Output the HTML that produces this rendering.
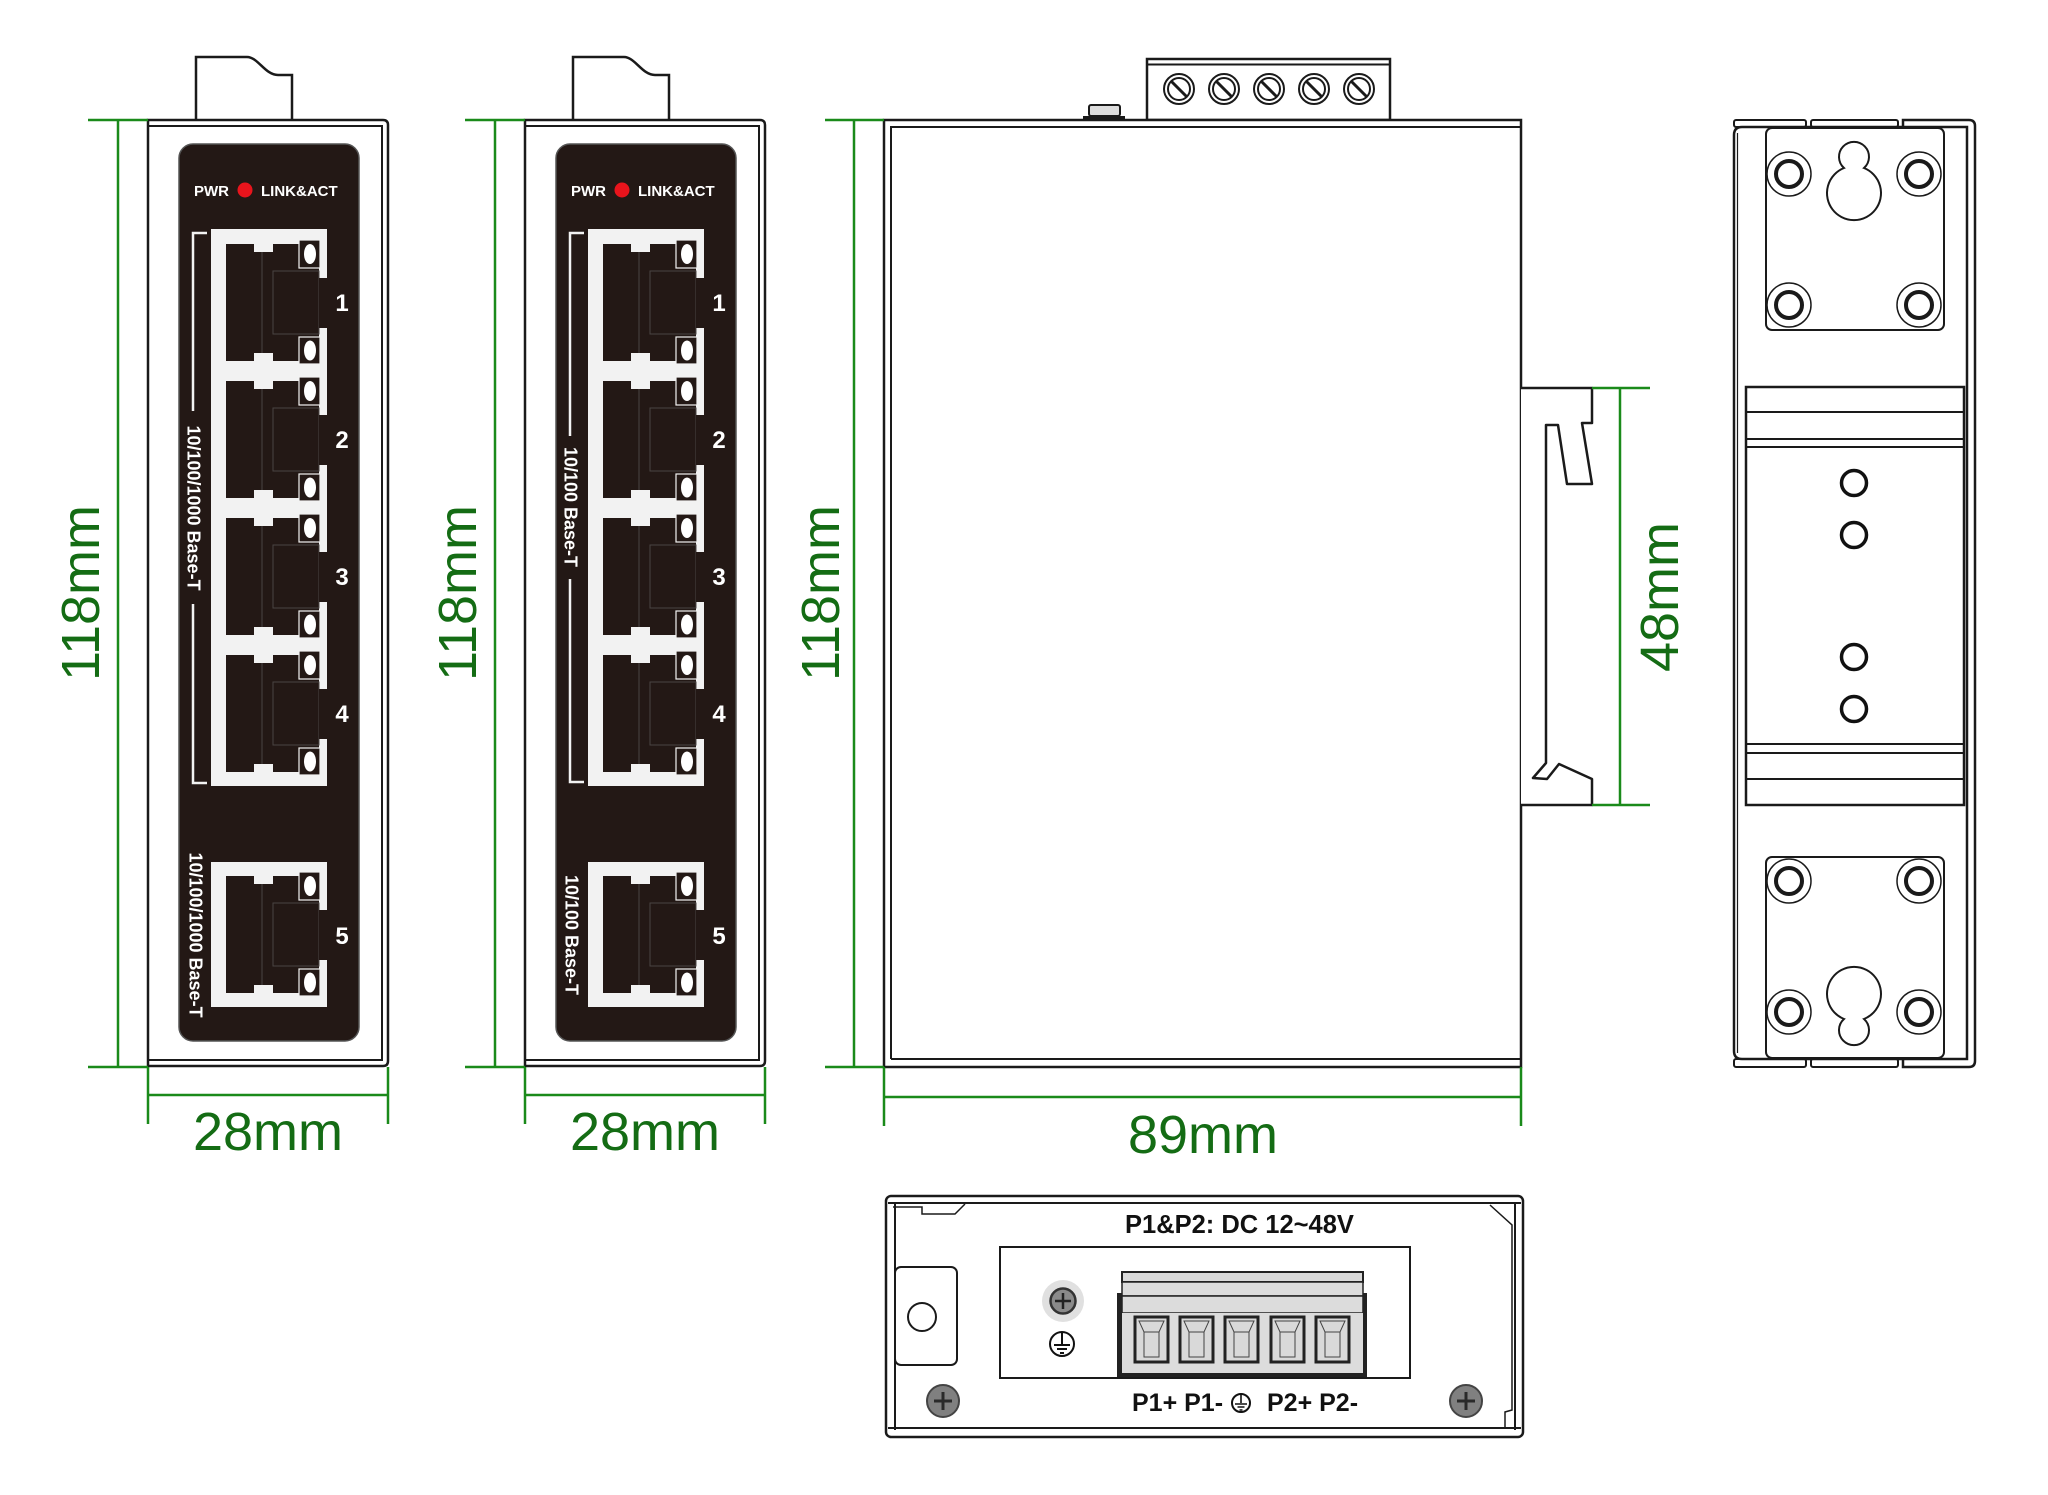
<!DOCTYPE html>
<html><head><meta charset="utf-8">
<style>
html,body{margin:0;padding:0;background:#fff;}
svg{display:block;}
.dim{stroke:#1a8a1a;stroke-width:2.5;fill:none;}
.dt{font-family:"Liberation Sans",Arial,sans-serif;font-size:54px;fill:#146c14;}
.k{stroke:#1a1a1a;stroke-width:2.5;fill:none;}
.wl{font-family:"Liberation Sans",Arial,sans-serif;font-weight:bold;fill:#fff;}
.bl{font-family:"Liberation Sans",Arial,sans-serif;font-weight:bold;fill:#111;}
</style></head><body>
<svg width="2048" height="1495" viewBox="0 0 2048 1495" xmlns="http://www.w3.org/2000/svg">
<defs>
<g id="port">
 <rect x="0" y="0" width="93" height="117" fill="#231815"/>
 <rect x="28" y="0" width="19" height="8" fill="#f2f2f2"/>
 <rect x="28" y="109" width="19" height="8" fill="#f2f2f2"/>
 <line x1="36" y1="8" x2="36" y2="109" stroke="#4a4442" stroke-width="1"/>
 <rect x="47" y="27" width="46" height="63" fill="none" stroke="#4a4442" stroke-width="1"/>
 <rect x="93" y="34" width="8" height="50" fill="#231815"/>
 <rect x="73" y="-4" width="21" height="28" fill="#231815" stroke="#f2f2f2" stroke-width="1.2"/>
 <ellipse cx="84" cy="10" rx="6" ry="10" fill="#fff"/>
 <rect x="73" y="93" width="21" height="27" fill="#231815" stroke="#f2f2f2" stroke-width="1.2"/>
 <ellipse cx="84" cy="106.5" rx="6" ry="10" fill="#fff"/>
</g>
<g id="scr">
 <circle r="22" fill="#fff" stroke="#1a1a1a" stroke-width="1.5"/>
 <circle r="13" fill="#fff" stroke="#1a1a1a" stroke-width="4"/>
</g>
<g id="tscr">
 <circle r="15" fill="#fff" stroke="#1a1a1a" stroke-width="2"/>
 <circle r="11" fill="#fff" stroke="#1a1a1a" stroke-width="2"/>
 <line x1="-7.5" y1="-7.5" x2="7.5" y2="7.5" stroke="#1a1a1a" stroke-width="3"/>
</g>
<g id="term">
 <rect x="0" y="0" width="33" height="45" fill="#d9d9d9" stroke="#222" stroke-width="3"/>
 <path d="M4,4 H29 L24,15 H9 Z M9,15 V40 H24 V15" fill="none" stroke="#444" stroke-width="1"/>
</g>
<g id="front">
 <path d="M196,120 V57 H247 C258,57 265,75 278,75 H292 V120" fill="#fff" stroke="#1a1a1a" stroke-width="2.5"/>
 <path d="M148,120 H383 Q388,120 388,125 V1061 Q388,1066 383,1066 H148 Z" fill="#fff" stroke="#1a1a1a" stroke-width="2.5"/>
 <path d="M148,126 H382 V1060 H148" fill="none" stroke="#1a1a1a" stroke-width="2"/>
 <rect x="179" y="144" width="180" height="897" rx="14" fill="#231815" stroke="#555" stroke-width="1.5"/>
 <text class="wl" x="194" y="196" font-size="15">PWR</text>
 <circle cx="245" cy="190" r="7.5" fill="#e8141c"/>
 <text class="wl" x="261" y="196" font-size="15">LINK&amp;ACT</text>
 <rect x="211" y="229" width="116" height="557" fill="#f2f2f2"/>
 <use href="#port" x="226" y="244"/>
 <use href="#port" x="226" y="381"/>
 <use href="#port" x="226" y="518"/>
 <use href="#port" x="226" y="655"/>
 <rect x="211" y="862" width="116" height="145" fill="#f2f2f2"/>
 <use href="#port" x="226" y="876"/>
 <text class="wl" x="342" y="311" font-size="24" text-anchor="middle">1</text>
 <text class="wl" x="342" y="448" font-size="24" text-anchor="middle">2</text>
 <text class="wl" x="342" y="585" font-size="24" text-anchor="middle">3</text>
 <text class="wl" x="342" y="722" font-size="24" text-anchor="middle">4</text>
 <text class="wl" x="342" y="944" font-size="24" text-anchor="middle">5</text>
</g>
</defs>

<!-- Front view 1 -->
<use href="#front"/>
<path d="M207,233 H193 V411 M193,604 V783 H207" fill="none" stroke="#f2f2f2" stroke-width="2.5"/>
<text class="wl" font-size="18" text-anchor="middle" transform="translate(194,508) rotate(90)" y="6.5">10/100/1000 Base-T</text>
<text class="wl" font-size="18" text-anchor="middle" transform="translate(196,935) rotate(90)" y="6.5">10/100/1000 Base-T</text>

<!-- Front view 2 -->
<use href="#front" x="377"/>
<path d="M584,233 H570 V436 M570,579 V782 H584" fill="none" stroke="#f2f2f2" stroke-width="2.5"/>
<text class="wl" font-size="18" text-anchor="middle" transform="translate(571,507) rotate(90)" y="6.5">10/100 Base-T</text>
<text class="wl" font-size="18" text-anchor="middle" transform="translate(572,935) rotate(90)" y="6.5">10/100 Base-T</text>

<!-- Side view -->
<rect x="1147" y="59" width="243" height="61" fill="#fff" stroke="#1a1a1a" stroke-width="2.5"/>
<line x1="1147" y1="64.5" x2="1390" y2="64.5" stroke="#1a1a1a" stroke-width="2"/>
<use href="#tscr" x="1179" y="89"/>
<use href="#tscr" x="1224" y="89"/>
<use href="#tscr" x="1269" y="89"/>
<use href="#tscr" x="1314" y="89"/>
<use href="#tscr" x="1359" y="89"/>
<rect x="1089" y="105" width="31" height="11" rx="2" fill="#ddd" stroke="#1a1a1a" stroke-width="2"/>
<line x1="1083" y1="117.5" x2="1125" y2="117.5" stroke="#1a1a1a" stroke-width="3"/>
<rect x="884" y="120" width="637" height="947" fill="#fff" stroke="#1a1a1a" stroke-width="2.5"/>
<path d="M891,1059 V127 H1521 M891,1059 H1521" fill="none" stroke="#1a1a1a" stroke-width="2"/>
<path d="M1521,388 H1592 V423 H1582 L1592,484 H1567 L1558,425 H1546 V763 L1533,778 L1547,779 L1559,764 L1592,779 V805 H1521" fill="#fff" stroke="#1a1a1a" stroke-width="2.5" stroke-linejoin="round"/>

<!-- Right view -->
<rect x="1734" y="120" width="72" height="7" rx="2" fill="#fff" stroke="#1a1a1a" stroke-width="2"/>
<rect x="1811" y="120" width="87" height="7" rx="2" fill="#fff" stroke="#1a1a1a" stroke-width="2"/>
<rect x="1734" y="1059" width="72" height="8" rx="2" fill="#fff" stroke="#1a1a1a" stroke-width="2"/>
<rect x="1811" y="1059" width="87" height="8" rx="2" fill="#fff" stroke="#1a1a1a" stroke-width="2"/>
<path d="M1903,127 V120 H1969 Q1975,120 1975,126 V1061 Q1975,1067 1969,1067 H1903 V1059" fill="#fff" stroke="#1a1a1a" stroke-width="2.5"/>
<path d="M1967,127 H1742 Q1734,127 1734,135 V1051 Q1734,1059 1742,1059 H1967 Z" fill="#fff" stroke="#1a1a1a" stroke-width="2.5"/>
<line x1="1737.5" y1="133" x2="1737.5" y2="1053" stroke="#1a1a1a" stroke-width="1.2"/>
<rect x="1766" y="128" width="178" height="202" rx="6" fill="#fff" stroke="#1a1a1a" stroke-width="2"/>
<use href="#scr" x="1789" y="174"/>
<use href="#scr" x="1919" y="174"/>
<use href="#scr" x="1789" y="305"/>
<use href="#scr" x="1919" y="305"/>
<path d="M1844,168 A15,15 0 1 1 1864,168 A27,27 0 1 1 1844,168 Z" fill="#fff" stroke="#1a1a1a" stroke-width="2"/>
<rect x="1766" y="857" width="178" height="201" rx="6" fill="#fff" stroke="#1a1a1a" stroke-width="2"/>
<use href="#scr" x="1789" y="881"/>
<use href="#scr" x="1919" y="881"/>
<use href="#scr" x="1789" y="1012"/>
<use href="#scr" x="1919" y="1012"/>
<path d="M1844,1019 A15,15 0 1 0 1864,1019 A27,27 0 1 0 1844,1019 Z" fill="#fff" stroke="#1a1a1a" stroke-width="2"/>
<rect x="1746" y="387" width="218" height="418" fill="#fff" stroke="#1a1a1a" stroke-width="2.5"/>
<path d="M1746,412 H1964 M1746,439 H1964 M1746,447 H1964 M1746,744 H1964 M1746,753 H1964 M1746,779 H1964" stroke="#1a1a1a" stroke-width="2"/>
<g fill="none" stroke="#111" stroke-width="3.5">
 <circle cx="1854" cy="483" r="12.5"/>
 <circle cx="1854" cy="535" r="12.5"/>
 <circle cx="1854" cy="657" r="12.5"/>
 <circle cx="1854" cy="709" r="12.5"/>
</g>

<!-- Power view -->
<rect x="886" y="1196" width="637" height="241" rx="5" fill="#fff" stroke="#1a1a1a" stroke-width="2.5"/>
<path d="M888,1203 H1521 M895,1203 V1430 M888,1428 H1521 M1515,1203 V1430" fill="none" stroke="#1a1a1a" stroke-width="2"/>
<path d="M893,1207 H922 V1214 H955 L965,1204 M1490,1205 L1512,1225 V1410 L1505,1412 V1428" fill="none" stroke="#1a1a1a" stroke-width="1.5"/>
<rect x="895" y="1267" width="62" height="98" rx="6" fill="#fff" stroke="#1a1a1a" stroke-width="2"/>
<circle cx="922" cy="1317" r="14" fill="#fff" stroke="#1a1a1a" stroke-width="2"/>
<rect x="1000" y="1247" width="410" height="131" fill="#fff" stroke="#1a1a1a" stroke-width="2"/>
<circle cx="1063" cy="1301" r="21" fill="#e0e0e0"/>
<circle cx="1063" cy="1301" r="12.5" fill="#8a8a8a" stroke="#333" stroke-width="2.5"/>
<path d="M1055,1301 H1071 M1063,1293 V1309" stroke="#222" stroke-width="2.5"/>
<circle cx="1062" cy="1344" r="12" fill="#fff" stroke="#111" stroke-width="2"/>
<path d="M1062,1332 V1344 M1054,1345 H1070 M1057,1349 H1067 M1060,1353 H1064" stroke="#111" stroke-width="2"/>
<rect x="1122" y="1272" width="241" height="10" fill="#d9d9d9" stroke="#222" stroke-width="2"/>
<rect x="1122" y="1282" width="241" height="14" fill="#dcdcdc" stroke="#222" stroke-width="1.5"/>
<rect x="1122" y="1296" width="241" height="17" fill="#dcdcdc" stroke="#222" stroke-width="1.5"/>
<rect x="1122" y="1313" width="241" height="60" fill="#dcdcdc"/>
<rect x="1117" y="1293" width="5" height="84" fill="#222"/>
<rect x="1363" y="1293" width="4" height="84" fill="#222"/>
<rect x="1117" y="1373" width="250" height="4" fill="#222"/>
<use href="#term" x="1135" y="1317"/>
<use href="#term" x="1180" y="1317"/>
<use href="#term" x="1225" y="1317"/>
<use href="#term" x="1271" y="1317"/>
<use href="#term" x="1316" y="1317"/>
<text class="bl" x="1125" y="1233" font-size="25.5">P1&amp;P2: DC 12~48V</text>
<text class="bl" x="1132" y="1411" font-size="25">P1+ P1-</text>
<circle cx="1241" cy="1403" r="9" fill="#fff" stroke="#111" stroke-width="2"/>
<path d="M1241,1394 V1403 M1235,1404 H1247 M1237.5,1407 H1244.5 M1239.5,1410 H1242.5" stroke="#111" stroke-width="1.6"/>
<text class="bl" x="1267" y="1411" font-size="25">P2+ P2-</text>
<circle cx="943" cy="1401" r="16" fill="#808080" stroke="#444" stroke-width="2"/>
<path d="M934,1401 H952 M943,1392 V1410" stroke="#2a2a2a" stroke-width="3"/>
<circle cx="1466" cy="1401" r="16" fill="#808080" stroke="#444" stroke-width="2"/>
<path d="M1457,1401 H1475 M1466,1392 V1410" stroke="#2a2a2a" stroke-width="3"/>

<!-- Dimensions -->
<path class="dim" d="M88,120 H148 M88,1067 H148 M118,120 V1067 M148,1067 V1124 M388,1067 V1124 M148,1095 H388"/>
<path class="dim" d="M465,120 H525 M465,1067 H525 M495,120 V1067 M525,1067 V1124 M765,1067 V1124 M525,1095 H765"/>
<path class="dim" d="M825,120 H884 M825,1067 H884 M854,120 V1067 M884,1067 V1126 M1521,1067 V1126 M884,1097 H1521"/>
<path class="dim" d="M1592,388 H1650 M1592,805 H1650 M1620,388 V805"/>
<text class="dt" text-anchor="middle" transform="translate(80,593) rotate(-90)" y="19">118mm</text>
<text class="dt" text-anchor="middle" transform="translate(457,593) rotate(-90)" y="19">118mm</text>
<text class="dt" text-anchor="middle" transform="translate(820,593) rotate(-90)" y="19">118mm</text>
<text class="dt" text-anchor="middle" transform="translate(1659,597) rotate(-90)" y="19">48mm</text>
<text class="dt" text-anchor="middle" x="268" y="1150">28mm</text>
<text class="dt" text-anchor="middle" x="645" y="1150">28mm</text>
<text class="dt" text-anchor="middle" x="1203" y="1153">89mm</text>
</svg>
</body></html>
